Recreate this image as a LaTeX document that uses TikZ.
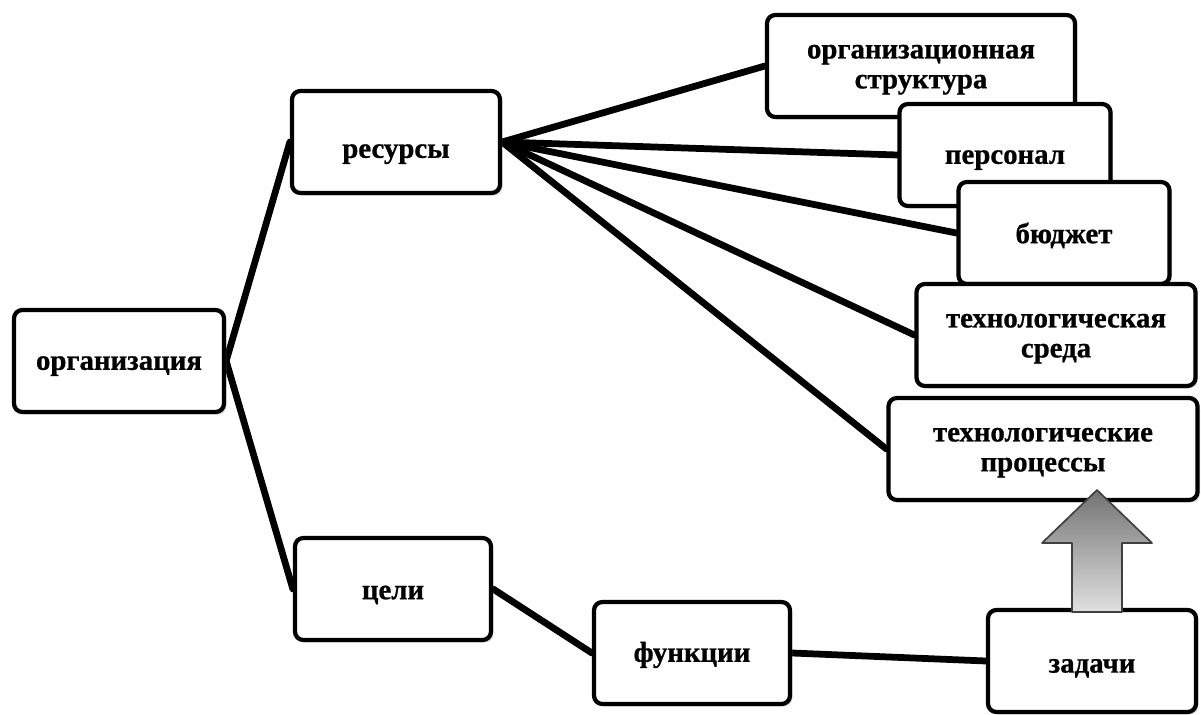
\documentclass[tikz,border=0pt]{standalone}
\usepackage{fontspec}
\setmainfont{Liberation Serif}[BoldFeatures={FakeBold=0.8}]
\usetikzlibrary{calc,positioning,shadows,backgrounds}

% text of a box, lowered a little
\newcommand\tx[2][2pt]{\raisebox{-#1}[\height][\depth]{\begin{tabular}{@{}c@{}}#2\end{tabular}}}

\tikzset{
  blok/.style={draw, line width=3pt, rounded corners=6pt, fill=white,
    minimum height=2.55cm, inner sep=2pt, font=\fontsize{20.5}{21.3}\selectfont\bfseries,
    drop shadow={shadow xshift=1.8pt, shadow yshift=-1.8pt, opacity=0.28}},
  svyaz/.style={line width=4.8pt, line cap=round}
}

\begin{document}
\begin{tikzpicture}[x=0.025cm, y=-0.025cm, line join=round]
\useasboundingbox (0,0) rectangle (1201,715);
% left part
\node[blok, minimum width=5.25cm] (org) at (119,361) {\tx{организация}};
\node[blok, minimum width=5.2cm] (res) at (396,142) {\tx[7pt]{ресурсы}};
\node[blok, minimum width=4.9cm] (cel) at (393,589) {\tx[3pt]{цели}};
\node[blok, minimum width=4.9cm] (fun) at (692,653) {\tx{функции}};
\node[blok, minimum width=5.2cm] (zad) at (1092,661) {\tx[4pt]{задачи}};
% resources, stacked
\node[blok, minimum width=7.7cm] (ost) at (921,66) {\tx[1pt]{организационная\\структура}};
\node[blok, minimum width=5.275cm] (pers) at (1005,155) {\tx{персонал}};
\node[blok, minimum width=5.275cm] (bud) at (1064,233) {\tx[3pt]{бюджет}};
\node[blok, minimum width=6.975cm] (tsr) at (1056,335) {\tx[1pt]{технологическая\\среда}};
\node[blok, minimum width=7.725cm] (tpr) at (1043,449) {\tx[1pt]{технологические\\процессы}};
\begin{scope}[on background layer]
\draw[svyaz] (org.east)--(res.west) (org.east)--(cel.west) (cel.east)--(fun.west) (fun.east)--(zad.west);
\foreach \t in {ost,pers,bud,tsr,tpr}{\draw[svyaz] (res.east)--(\t.west);}
\end{scope}
% block arrow
\coordinate (ab) at (1097,612);
\coordinate (at) at (1097,490);
\draw[draw=black!75, line width=1.2pt, top color=black!55, bottom color=black!12]
  (ab) -- ++(-25,0) -- ++(0,-69) -- ++(-30,0) -- (at) -- ++(55,53) -- ++(-30,0) -- ++(0,69) -- cycle;
\end{tikzpicture}
\end{document}
